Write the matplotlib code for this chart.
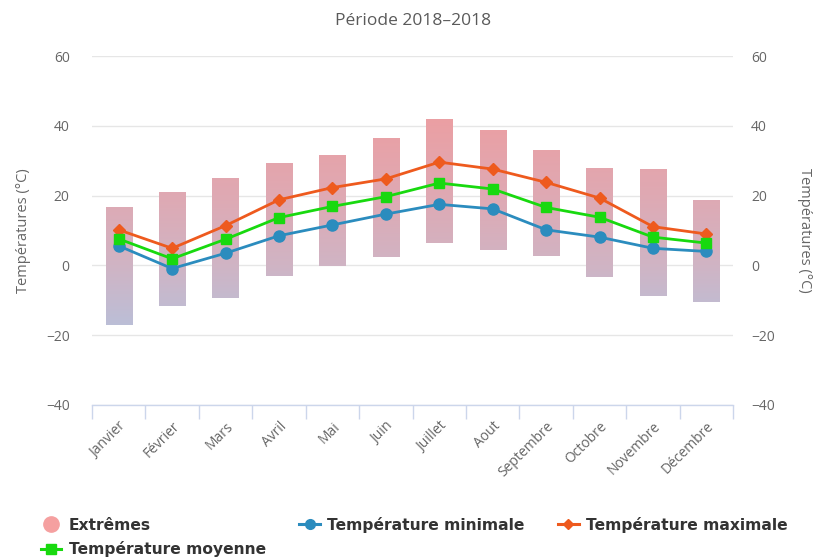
import numpy as np
import matplotlib.pyplot as plt
from matplotlib.colors import LinearSegmentedColormap
from matplotlib.lines import Line2D

# Monthly temperature data (°C)
months = ['Janvier', 'Février', 'Mars', 'Avril', 'Mai', 'Juin', 'Juillet',
          'Aout', 'Septembre', 'Octobre', 'Novembre', 'Décembre']
extreme_low = [-17.0, -11.6, -9.4, -3.0, -0.3, 2.5, 6.4, 4.5, 2.7, -3.2, -8.9, -10.5]
extreme_high = [16.7, 20.9, 24.8, 29.2, 31.5, 36.6, 41.7, 38.8, 32.8, 27.9, 27.3, 18.7]
temp_min = [5.6, -0.9, 3.5, 8.5, 11.6, 14.7, 17.5, 16.2, 10.2, 8.1, 4.9, 4.0]
temp_mean = [7.6, 1.9, 7.5, 13.7, 16.9, 19.7, 23.6, 21.9, 16.6, 13.8, 8.1, 6.4]
temp_max = [10.2, 4.9, 11.4, 18.8, 22.3, 24.8, 29.6, 27.6, 23.8, 19.3, 11.1, 9.0]

plt.rcParams['font.family'] = ['Open Sans', 'DejaVu Sans']

fig = plt.figure(figsize=(8.16, 5.58), dpi=100)
ax = fig.add_axes([0.1127, 0.2742, 0.7858, 0.6254])

x = np.arange(len(months))
ymin, ymax = -40, 60

# Extremes: bars coloured by temperature (blue-grey when cold, pink when hot)
cmap = LinearSegmentedColormap.from_list(
    'ext', [(0.0, '#b8c0da'), (0.323, '#d0b4c4'), (0.645, '#dfa9b3'), (1.0, '#eb9fa3')])
bar_w = 0.49
for xi, lo, hi in zip(x, extreme_low, extreme_high):
    vals = np.linspace(hi, lo, 200).reshape(-1, 1)
    ax.imshow(vals, cmap=cmap, vmin=-20, vmax=42, aspect='auto',
              extent=(xi - bar_w / 2, xi + bar_w / 2, lo, hi), zorder=1,
              interpolation='nearest')

ax.plot(x, temp_min, color='#2b8cbe', lw=2, marker='o', ms=8, zorder=3)
ax.plot(x, temp_max, color='#ee5a1e', lw=2, marker='D', ms=6, zorder=3)
ax.plot(x, temp_mean, color='#18d90f', lw=2, marker='s', ms=7.5, zorder=4)

ax.set_xlim(-0.5, len(months) - 0.5)
ax.set_ylim(ymin, ymax)

# grid + axes styling
ax.set_yticks(np.arange(-40, 61, 20))
ax.set_yticklabels(['\u221240', '\u221220', '0', '20', '40', '60'])
ax.yaxis.grid(True, color='#e6e6e6', lw=1)
ax.set_axisbelow(True)
for s in ['top', 'right', 'left']:
    ax.spines[s].set_visible(False)
ax.spines['bottom'].set_color('#ccd6eb')
ax.spines['bottom'].set_linewidth(1)
ax.tick_params(axis='y', length=0, pad=16, labelsize=10, labelcolor='#666666')

ax.set_xticks(x)
ax.set_xticklabels(months, rotation=45, ha='right', rotation_mode='anchor')
ax.set_xticks(np.arange(-0.5, len(months), 1), minor=True)
ax.tick_params(axis='x', which='major', length=0, pad=10, labelsize=10, labelcolor='#666666')
ax.tick_params(axis='x', which='minor', length=10, color='#ccd6eb', width=1)

ax.set_ylabel('Températures (°C)', fontsize=10.5, color='#666666', labelpad=11)

ax2 = ax.twinx()
ax2.set_ylim(ymin, ymax)
ax2.set_yticks(np.arange(-40, 61, 20))
ax2.set_yticklabels(['\u221240', '\u221220', '0', '20', '40', '60'])
for s in ['top', 'right', 'left', 'bottom']:
    ax2.spines[s].set_visible(False)
ax2.tick_params(axis='y', length=0, pad=13, labelsize=10, labelcolor='#666666')
ax2.set_ylabel('Températures (°C)', fontsize=10.5, color='#666666', rotation=270, labelpad=27)

fig.text(0.506, 0.962, 'Période 2018\u20132018', ha='center', va='center',
         fontsize=12.5, color='#5a5a5a')

# legend
handles = [
    Line2D([], [], ls='none', marker='o', ms=11, color='#f5a0a0'),
    Line2D([], [], color='#18d90f', lw=2.2, marker='s', ms=7),
    Line2D([], [], color='#2b8cbe', lw=2.2, marker='o', ms=7),
    Line2D([], [], color='#ee5a1e', lw=2.2, marker='D', ms=5.5),
]
labels = ['Extrêmes', 'Température moyenne', 'Température minimale', 'Température maximale']
fig.legend(handles, labels, ncol=3, loc='lower left', bbox_to_anchor=(0.033, -0.024),
           frameon=False, handlelength=1.3, handletextpad=0.5, columnspacing=2.15,
           labelspacing=0.55, prop={'family': 'DejaVu Sans', 'weight': 'bold', 'size': 11.2},
           labelcolor='#333333')

fig.savefig('out.png', dpi=100)
